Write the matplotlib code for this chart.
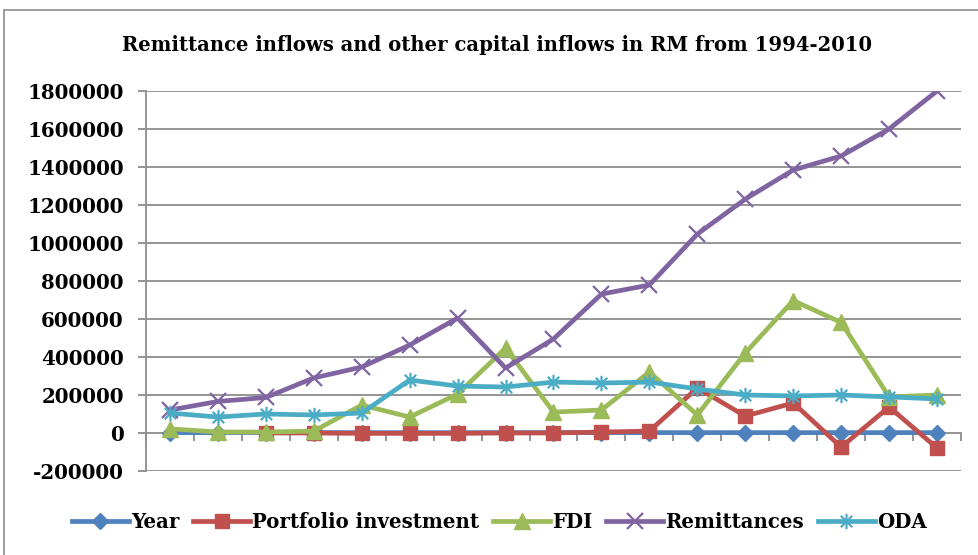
import matplotlib.pyplot as plt
import matplotlib.patches as mpatches
from matplotlib.path import Path
import numpy as np

years = list(range(1994, 2011))
year_vals = [float(y) for y in years]
portfolio = [None, None, 0, 0, -2000, -2000, -2000, 0, 0, 5000, 10000,
             237000, 89000, 158000, -74000, 137000, -79000]
fdi = [22000, 5000, 5000, 10000, 147000, 84000, 205000, 447000, 110000,
       121000, 321000, 95000, 421000, 697000, 582000, 190000, 200000]
remittances = [121000, 166000, 187000, 290000, 347000, 463000, 605000, 342000,
               495000, 731000, 779000, 1047000, 1231000, 1384000, 1458000,
               1600000, 1800000]
oda = [105000, 84000, 100000, 95000, 105000, 279000, 247000, 242000, 268000,
       263000, 268000, 232000, 200000, 195000, 200000, 190000, 179000]

yticks = list(range(-200000, 1800001, 200000))

# Excel-style asterisk: vertical bar plus an X
asterisk = Path([(0, -1), (0, 1), (-0.75, -0.75), (0.75, 0.75),
                 (-0.75, 0.75), (0.75, -0.75)],
                [Path.MOVETO, Path.LINETO, Path.MOVETO, Path.LINETO,
                 Path.MOVETO, Path.LINETO])

plt.rcParams['font.family'] = ['DejaVu Serif']
plt.rcParams['font.weight'] = 'bold'

fig = plt.figure(figsize=(9.79, 5.55), dpi=100)
fig.patches.append(mpatches.Rectangle((4 / 979, -0.1), 1.1, 1 - 10 / 555 + 0.1,
                                      transform=fig.transFigure, fill=False,
                                      edgecolor='#8c8c8c', linewidth=1.2))
ax = fig.add_axes([146 / 979, 1 - 471 / 555, (961 - 146) / 979, (471 - 91) / 555])

x = np.arange(len(years))
port = np.array([np.nan if v is None else v for v in portfolio], dtype=float)
lw = 3.4
ax.plot(x, year_vals, color='#4F81BD', lw=lw, marker='D', ms=8.5, label='Year', zorder=3)
ax.plot(x, port, color='#C0504D', lw=lw, marker='s', ms=10.5, label='Portfolio investment', zorder=4)
ax.plot(x, fdi, color='#9BBB59', lw=lw, marker='^', ms=12, label='FDI', zorder=5)
ax.plot(x, remittances, color='#8064A2', lw=lw, marker='x', ms=12, mew=1.6,
        label='Remittances', zorder=6)
ax.plot(x, oda, color='#4BACC6', lw=lw, marker=asterisk, ms=11, mew=1.6,
        label='ODA', zorder=7)

ax.set_xlim(-0.5, len(years) - 0.5)
ax.set_ylim(-200000, 1800000)
ax.set_yticks(yticks)
ax.set_yticklabels([str(v) for v in yticks], fontsize=14.3, fontweight='bold')
ax.set_xticks(np.arange(-0.5, len(years), 1.0))
ax.set_xticklabels([])
for v in yticks:
    if v != 0:
        ax.axhline(v, color='#8c8c8c', lw=1.3, zorder=1)

for s in ['top', 'right']:
    ax.spines[s].set_visible(False)
ax.spines['bottom'].set_position(('data', 0))
ax.spines['bottom'].set_color('#8c8c8c')
ax.spines['left'].set_color('#8c8c8c')
ax.spines['bottom'].set_linewidth(1.3)
ax.spines['left'].set_linewidth(1.3)
ax.tick_params(axis='both', color='#8c8c8c', width=1.3, length=6, direction='out')
ax.tick_params(axis='y', pad=10)

fig.text(497 / 979, 1 - 45 / 555, 'Remittance inflows and other capital inflows in RM from 1994-2010',
         ha='center', va='center', fontsize=14.1, fontweight='bold')

fig.legend(loc='center', bbox_to_anchor=(0.51, 1 - 522 / 555), ncol=5, frameon=False,
           prop={'size': 14.2, 'weight': 'bold'}, handlelength=2.9, columnspacing=0.7,
           handletextpad=0.1)

fig.savefig('out.png', dpi=100)
